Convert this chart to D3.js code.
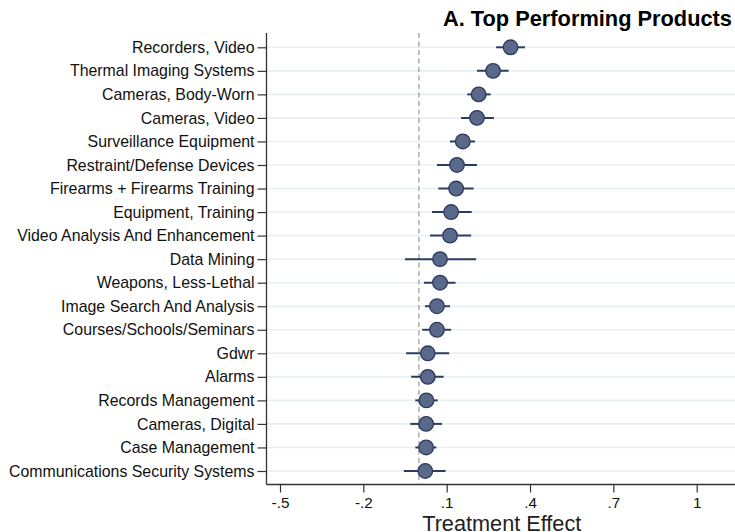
<!DOCTYPE html>
<html>
<head>
<meta charset="utf-8">
<script src="https://cdn.jsdelivr.net/npm/d3@7"></script>
<style>
  html, body { margin: 0; padding: 0; background: #fff; }
  svg { display: block; font-family: "Liberation Sans", Arial, Helvetica, sans-serif; }
</style>
</head>
<body>
<svg id="chart" width="735" height="532"></svg>
<script>
// Product categories, top to bottom
const products = [
  "Recorders, Video",
  "Thermal Imaging Systems",
  "Cameras, Body-Worn",
  "Cameras, Video",
  "Surveillance Equipment",
  "Restraint/Defense Devices",
  "Firearms + Firearms Training",
  "Equipment, Training",
  "Video Analysis And Enhancement",
  "Data Mining",
  "Weapons, Less-Lethal",
  "Image Search And Analysis",
  "Courses/Schools/Seminars",
  "Gdwr",
  "Alarms",
  "Records Management",
  "Cameras, Digital",
  "Case Management",
  "Communications Security Systems"
];
// Point estimates of the treatment effect
const estimate = [0.330, 0.267, 0.215, 0.209, 0.158, 0.137, 0.134, 0.116, 0.112, 0.076,
                  0.076, 0.065, 0.065, 0.032, 0.032, 0.027, 0.026, 0.026, 0.023];
// Confidence interval bounds
const ciLow = [0.278, 0.209, 0.174, 0.152, 0.112, 0.065, 0.070, 0.047, 0.040, -0.050,
               0.018, 0.022, 0.012, -0.046, -0.028, -0.013, -0.031, -0.013, -0.054];
const ciHigh = [0.382, 0.323, 0.258, 0.270, 0.202, 0.209, 0.197, 0.190, 0.188, 0.206,
                0.132, 0.112, 0.116, 0.109, 0.089, 0.068, 0.083, 0.063, 0.096];
// X-axis tick values and labels
const xTicks = [-0.5, -0.2, 0.1, 0.4, 0.7, 1];
const xTickLabels = ["-.5", "-.2", ".1", ".4", ".7", "1"];

const rows = products.map((p, i) => ({ name: p, est: estimate[i], lo: ciLow[i], hi: ciHigh[i] }));

const svg = d3.select("#chart");
const plotLeft = 266.5, plotRight = 735, plotTop = 33, plotBottom = 484.5;
const fontFam = "\"Liberation Sans\", Arial, Helvetica, sans-serif";

const x = d3.scaleLinear().domain([-0.5, 1]).range([280, 696.7]);
const y = d3.scalePoint().domain(products).range([47.3, 471]);

// Horizontal gridlines at each category
svg.append("g").selectAll("line").data(products).join("line")
  .attr("x1", plotLeft).attr("x2", plotRight)
  .attr("y1", d => y(d)).attr("y2", d => y(d))
  .attr("stroke", "#e8eff3").attr("stroke-width", 1.6);

// Reference line at zero
svg.append("line")
  .attr("x1", x(0)).attr("x2", x(0))
  .attr("y1", plotTop).attr("y2", plotBottom)
  .attr("stroke", "#a0a0a0").attr("stroke-width", 1.3)
  .attr("stroke-dasharray", "5,3.5");

// Confidence intervals
svg.append("g").selectAll("line").data(rows).join("line")
  .attr("x1", d => x(d.lo)).attr("x2", d => x(d.hi))
  .attr("y1", d => y(d.name)).attr("y2", d => y(d.name))
  .attr("stroke", "#2d3d62").attr("stroke-width", 2);

// Point estimates
svg.append("g").selectAll("circle").data(rows).join("circle")
  .attr("cx", d => x(d.est)).attr("cy", d => y(d.name))
  .attr("r", 7.3)
  .attr("fill", "#5a6989").attr("stroke", "#2a3a60").attr("stroke-width", 1.3);

// Y axis
const yAxis = svg.append("g").attr("transform", `translate(${plotLeft},0)`)
  .call(d3.axisLeft(y).tickSize(9).tickPadding(3));
yAxis.select(".domain").remove();
yAxis.append("line").attr("x1", 0).attr("x2", 0).attr("y1", plotTop).attr("y2", plotBottom)
  .attr("stroke", "#333").attr("stroke-width", 1.3);
yAxis.selectAll(".tick line").attr("stroke", "#333").attr("stroke-width", 1.2);
yAxis.selectAll(".tick text").attr("fill", "#111").style("font-size", "15.9px")
  .style("font-family", fontFam);

// X axis
const xAxis = svg.append("g").attr("transform", `translate(0,${plotBottom})`)
  .call(d3.axisBottom(x).tickValues(xTicks).tickFormat((d, i) => xTickLabels[i]).tickSize(8).tickPadding(5));
xAxis.select(".domain").remove();
xAxis.append("line").attr("x1", plotLeft).attr("x2", plotRight).attr("y1", 0).attr("y2", 0)
  .attr("stroke", "#333").attr("stroke-width", 1.3);
xAxis.selectAll(".tick line").attr("stroke", "#333").attr("stroke-width", 1.2);
xAxis.selectAll(".tick text").attr("fill", "#111").style("font-size", "15.3px")
  .style("font-family", fontFam);

// Axis title
svg.append("text")
  .attr("x", (plotLeft + plotRight) / 2 + 1).attr("y", 531)
  .attr("text-anchor", "middle")
  .style("font-size", "21.7px").attr("fill", "#222")
  .text("Treatment Effect");

// Panel title
svg.append("text")
  .attr("x", 732).attr("y", 26)
  .attr("text-anchor", "end")
  .style("font-size", "21.8px").style("font-weight", "bold").attr("fill", "#000")
  .text("A. Top Performing Products");
</script>
</body>
</html>
